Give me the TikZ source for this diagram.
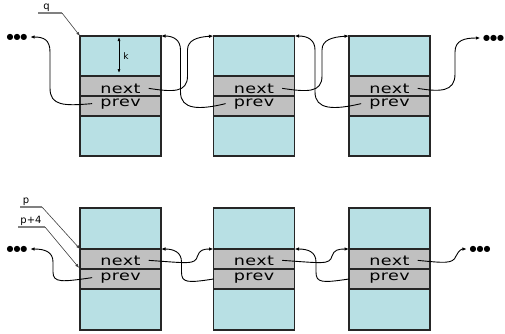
\documentclass[tikz,border=0pt]{standalone}
\usepackage{fontspec}
\setmainfont{DejaVu Sans}
\newfontfamily\cellfont{DejaVu Sans}[FakeStretch=1.3,LetterSpace=3]
\usetikzlibrary{arrows.meta}

\definecolor{blockfill}{RGB}{184,224,228}
\definecolor{linkfill}{RGB}{192,192,192}

\tikzset{
  area/.style={draw=black!85, line width=1.2pt, fill=blockfill, minimum width=81pt,
    inner sep=0pt, outer sep=0pt, anchor=north},
  field/.style={area, fill=linkfill, minimum height=20pt},
  fname/.style={font=\cellfont\fontsize{13.5}{15}\selectfont, inner xsep=8pt, inner ysep=0pt, anchor=base},
  link/.style={line width=0.9pt, -{Latex[length=4.5pt,width=3.5pt]}},
  ptr/.style={line width=0.6pt, black!75, -{Latex[length=4pt,width=3pt]}},
  uline/.style={black!50, line width=1.5pt},
  more/.style={font=\fontsize{8}{8}\selectfont, inner sep=2.5pt},
  var/.style={font=\fontsize{10}{10}\selectfont, inner sep=1pt}
}

\begin{document}
\begin{tikzpicture}[x=1pt,y=-1pt]
\useasboundingbox (0,0) rectangle (505,333);

% upper list
\foreach \i/\x in {1/120.5,2/254,3/389.5} {
  \node[area, minimum height=40pt] (qtop\i) at (\x,36) {};
  \node[field] (qnext\i) at (qtop\i.south) {};
  \node[field] (qprev\i) at (qnext\i.south) {};
  \node[area, minimum height=40pt] (qbot\i) at (qprev\i.south) {};
  \node[fname] (qn\i) at ([yshift=3pt]qnext\i.south) {next};
  \node[fname] (qp\i) at ([yshift=10pt]qprev\i.south) {prev};
}

% lower list
\foreach \i/\x in {1/120.5,2/254,3/389.5} {
  \node[area, minimum height=41pt] (ptop\i) at (\x,208) {};
  \node[field] (pnext\i) at (ptop\i.south) {};
  \node[field] (pprev\i) at (pnext\i.south) {};
  \node[area, minimum height=41pt] (pbot\i) at (pprev\i.south) {};
  \node[fname] (pn\i) at ([yshift=4pt]pnext\i.south) {next};
  \node[fname] (pp\i) at ([yshift=9pt]pprev\i.south) {prev};
}

\node[more] (qlmore) at (17,37) {●●●};
\node[more] (qrmore) at (493.5,38) {●●●};
\node[more] (plmore) at (17,249) {●●●};
\node[more] (prmore) at (480,249) {●●●};

% pointers into the lists
\node[var] (qvar) at (46.5,8) {q};
\draw[uline] (38,13) -- (62,13) coordinate (qend);
\draw[ptr] (qend) -- (qtop1.north west);

\node[var] (pvar) at (26,202) {p};
\draw[uline] (20,207) -- (42,207) coordinate (pend);
\draw[ptr] (pend) -- (pnext1.north west);

\node[var] (p4var) at (31,221) {p+4};
\draw[uline] (18,227) -- (45,227) coordinate (p4end);
\draw[ptr, shorten >=1.5pt] (p4end) -- (pprev1.north west);

\draw[link, {Latex[length=4pt,width=3pt]}-{Latex[length=4pt,width=3pt]}, line width=0.7pt,
  shorten >=3pt, shorten <=1pt]
  ([xshift=-1.5pt]qtop1.north) -- ([xshift=-1.5pt]qtop1.south)
  node[midway, right=3pt, var, font=\fontsize{9}{9}\selectfont] {k};

% links of the upper list
\draw[link] (qp1.west) .. controls (64,106) and (50,106) .. (50,88) -- (50,52)
  .. controls (50,40) and (44,37) .. (qlmore.east);
\foreach \i/\j/\g in {1/2/187.5,2/3/322} {
  \draw[link] (qn\i.east) .. controls (\g-15,92) and (\g,93) .. (\g,76) -- (\g,50)
    .. controls (\g,40) and (\g+10,37) .. (qtop\j.north west);
  \draw[link] (qp\j.west) .. controls (\g+12,110) and (\g-7,110) .. (\g-7,92) -- (\g-7,50)
    .. controls (\g-7,40) and (\g-14,36) .. (qtop\i.north east);
}
\draw[link] (qn3.east) .. controls (440,92) and (455,92) .. (455,74) -- (455,52)
  .. controls (455,40) and (465,38) .. (qrmore.west);

% links of the lower list
\draw[link] (pp1.west) .. controls (62,282) and (53,283) .. (53,272) -- (53,262)
  .. controls (53,252) and (45,249) .. (plmore.east);
\foreach \i/\j/\g in {1/2/187.5,2/3/322} {
  \draw[link] (pn\i.east) .. controls (\g,263) and (\g+8,265) .. (\g+10,256)
    .. controls (\g+12,250) and (\g+16,249) .. (pnext\j.north west);
  \draw[link] (pprev\j.west) .. controls (\g,283) and (\g-6,283) .. (\g-6,272) -- (\g-6,262)
    .. controls (\g-6,252) and (\g-14,249) .. (pnext\i.north east);
}
\draw[link] (pn3.east) .. controls (445,263) and (453,264) .. (456,256)
  .. controls (459,250) and (462,249) .. (prmore.west);
\end{tikzpicture}
\end{document}
